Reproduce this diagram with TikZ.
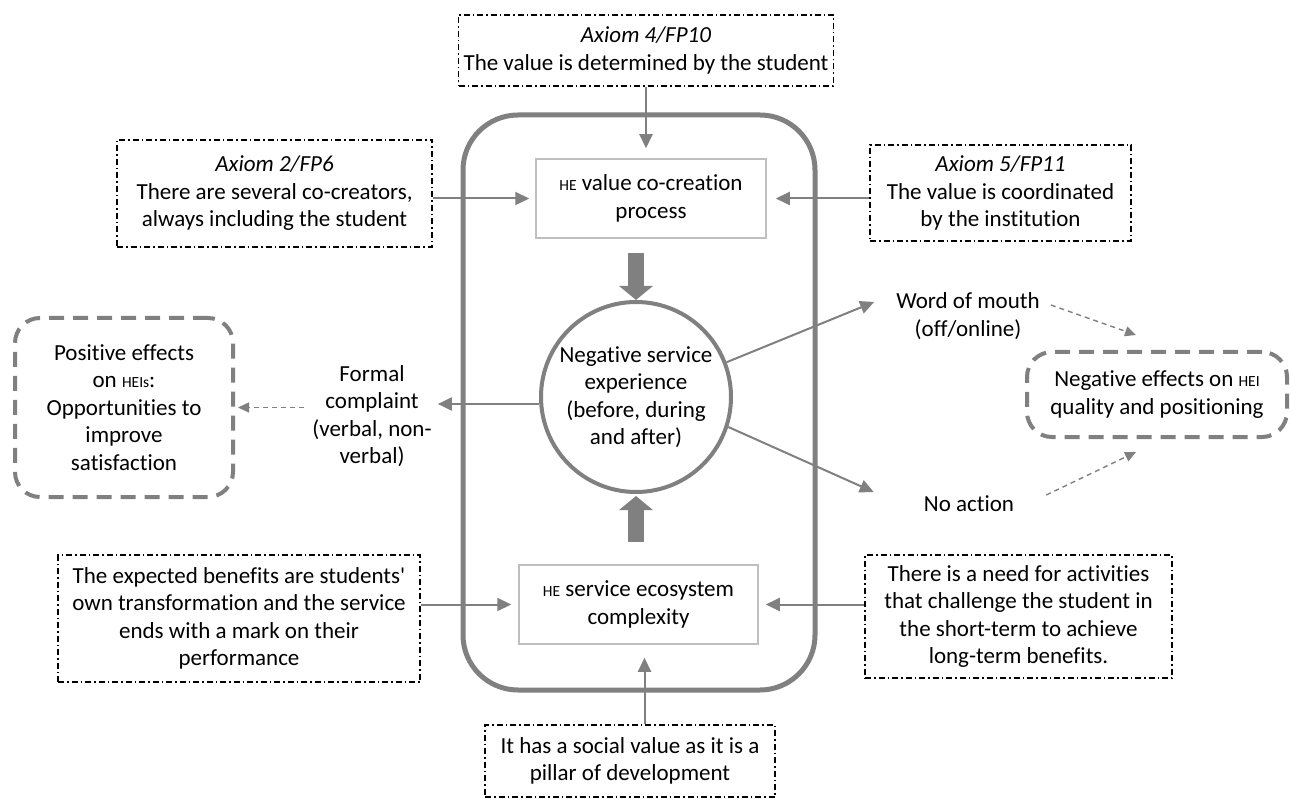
\documentclass[tikz,border=0pt]{standalone}
\usepackage{fontspec}
\setmainfont{Carlito}[Ligatures={NoCommon}]
\usetikzlibrary{arrows.meta}
\definecolor{linegray}{RGB}{128,128,128}
\definecolor{boxgray}{RGB}{191,191,191}
\newcommand{\smc}[1]{{\fontsize{15.5}{18}\selectfont #1}}

\begin{document}
\begin{tikzpicture}[x=1pt,y=-1pt,
  every node/.style={font=\fontsize{23}{27.5}\selectfont, align=center, inner sep=0pt},
  axbox/.style={draw=black, line width=1.2pt, dash pattern=on 6pt off 3pt on 1.5pt off 3pt},
  inbox/.style={draw=boxgray, line width=1.5pt},
  effbox/.style={draw=linegray, line width=4pt, dash pattern=on 15pt off 9pt, rounded corners=25pt},
  arr/.style={draw=linegray, line width=2pt, -{Triangle[length=14pt,width=13pt]}},
  darr/.style={draw=linegray, line width=1.4pt, dash pattern=on 5pt off 4pt, -{Triangle[length=11pt,width=10pt]}},
  bigarr/.style={draw=linegray, line width=16pt, -{Triangle[length=14pt,width=33pt]}}]
\useasboundingbox (0,0) rectangle (1290,799);

\node[draw=linegray, line width=5pt, rounded corners=55pt, minimum width=352pt, minimum height=575pt] (frame) at (639,402.5) {};

\node[axbox, minimum width=375pt, minimum height=71pt] (ax4) at (646,50.5) {\textit{Axiom 4/FP10}\\The value is determined by the student};
\node[axbox, minimum width=315pt, minimum height=107pt] (ax2) at (274.5,193.5) {\textit{Axiom 2/FP6}\\There are several co-creators,\\always including the student};
\node[axbox, minimum width=261pt, minimum height=96pt] (ax5) at (1000.5,193) {\textit{Axiom 5/FP11}\\The value is coordinated\\by the institution};
\node[inbox, minimum width=230pt, minimum height=79pt] (cobox) at (651,198.5) {\smc{HE} value co-creation\\process};
\node[circle, draw=linegray, line width=4pt, minimum size=190pt] (circ) at (636,397) {Negative service\\experience\\(before, during\\and after)};
\node[inbox, minimum width=239pt, minimum height=79pt] (eco) at (638.5,604.5) {\smc{HE} service ecosystem\\complexity};
\node[axbox, minimum width=362pt, minimum height=127pt] (ben) at (239,618.5) {The expected benefits are students\textquotesingle\\own transformation and the service\\ends with a mark on their\\performance};
\node[axbox, minimum width=307pt, minimum height=123pt] (act) at (1018.5,616.5) {There is a need for activities\\that challenge the student in\\the short-term to achieve\\long-term benefits.};
\node[axbox, minimum width=290pt, minimum height=72pt] (soc) at (630,761) {It has a social value as it is a\\pillar of development};
\node[effbox, minimum width=218pt, minimum height=179pt] (pos) at (124,407.5) {Positive effects\\on \smc{HEIs}:\\Opportunities to\\improve\\satisfaction};
\node[inner xsep=6pt] (formal) at (372,416) {Formal\\complaint\\(verbal, non-\\verbal)};
\node (wom) at (968,316) {Word of mouth\\(off/online)};
\node (noact) at (969,504) {No action};
\node[effbox, minimum width=260pt, minimum height=85pt] (neg) at (1157,394.5) {Negative effects on \smc{HEI}\\quality and positioning};

\draw[arr, shorten >=10pt] (ax4.south) -- (ax4.south |- cobox.north);
\draw[arr, shorten >=6pt] (ax2.east |- cobox.west) -- (cobox.west);
\draw[arr, shorten >=9pt] (ax5.west |- cobox.east) -- (cobox.east);
\draw[arr, shorten >=7pt] (ben.east |- eco.west) -- (eco.west);
\draw[arr, shorten >=7pt] (act.west |- eco.east) -- (eco.east);
\draw[arr, shorten >=13pt] ([xshift=6pt]eco.south |- soc.north) -- ([xshift=6pt]eco.south);

\draw[bigarr, shorten <=14pt] (cobox.south -| circ) -- (circ.north);
\draw[bigarr, shorten <=22pt, shorten >=2pt] (eco.north -| circ) -- (circ.south);

\draw[arr] ([yshift=-7pt]circ.west) -- ([yshift=-7pt]circ.west -| formal.east);
\draw[darr, shorten <=2pt, shorten >=3pt] (formal.west |- pos.east) -- (pos.east);
\draw[arr] (circ.21) -- ([xshift=-22pt,yshift=14pt]wom.west);
\draw[arr] (circ.-18) -- ([xshift=-50pt,yshift=12pt]noact.west);
\draw[darr] ([xshift=11pt,yshift=11pt]wom.east) -- ([xshift=-21pt,yshift=15pt]neg.north);
\draw[darr] ([xshift=32pt,yshift=9pt]noact.east) -- ([xshift=-21pt,yshift=-13pt]neg.south);
\end{tikzpicture}
\end{document}
